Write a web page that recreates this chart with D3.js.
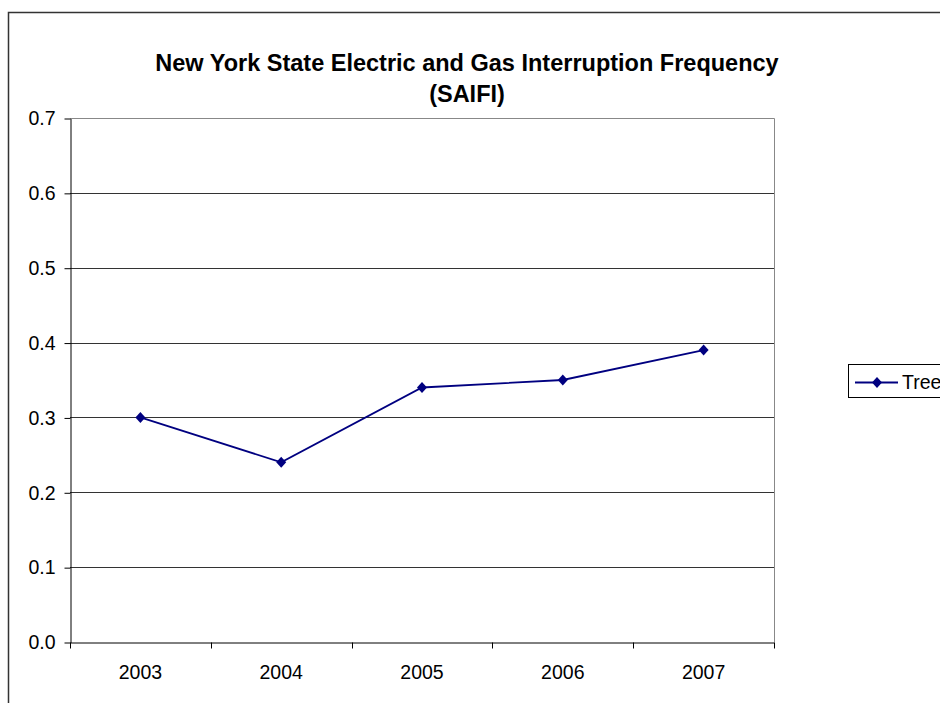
<!DOCTYPE html>
<html>
<head>
<meta charset="utf-8">
<script src="https://cdn.jsdelivr.net/npm/d3@7"></script>
<style>
  html, body { margin: 0; padding: 0; background: #fff; }
  svg { display: block; font-family: Arial, "Liberation Sans", sans-serif; }
</style>
</head>
<body>
<svg id="chart" width="940" height="703"></svg>
<script>
const categories = ["2003", "2004", "2005", "2006", "2007"];
const seriesName = "Tree";
const treeValues = [0.30, 0.24, 0.34, 0.35, 0.39];
const yTicks = [0.0, 0.1, 0.2, 0.3, 0.4, 0.5, 0.6, 0.7];
const titleLines = ["New York State Electric and Gas Interruption Frequency", "(SAIFI)"];

const svg = d3.select("#chart");
const plot = { left: 70, top: 118, right: 774, bottom: 642 };
const tickFont = 19.5;

// outer chart border
svg.append("path")
  .attr("d", `M8.5,703 L8.5,12.5 L940,12.5`)
  .attr("fill", "none").attr("stroke", "#333").attr("stroke-width", 1.5);

const x = d3.scaleBand().domain(categories).range([plot.left, plot.right]).padding(0);
const y = d3.scaleLinear().domain([0, 0.7]).range([plot.bottom, plot.top]);

// gridlines
svg.append("g").selectAll("line").data(yTicks.filter(d => d > 0 && d < 0.7)).join("line")
  .attr("x1", plot.left).attr("x2", plot.right)
  .attr("y1", d => Math.round(y(d)) + 0.5).attr("y2", d => Math.round(y(d)) + 0.5)
  .attr("stroke", "#333").attr("stroke-width", 1);

// plot area top/right border
svg.append("path")
  .attr("d", `M${plot.left},${plot.top + 0.5} L${plot.right + 0.5},${plot.top + 0.5} L${plot.right + 0.5},${plot.bottom}`)
  .attr("fill", "none").attr("stroke", "#888").attr("stroke-width", 1);

// y axis
const yAxis = d3.axisLeft(y).tickValues(yTicks).tickFormat(d3.format(".1f")).tickSize(6).tickSizeOuter(0);
const gy = svg.append("g").attr("transform", `translate(${plot.left + 0.5},0.5)`).call(yAxis);
gy.select(".domain").attr("stroke", "#000");
gy.selectAll(".tick line").attr("stroke", "#000");
gy.selectAll(".tick text").attr("font-size", tickFont).attr("fill", "#000").attr("x", -15)
  .attr("font-family", "Arial, 'Liberation Sans', sans-serif");

// x axis
const xAxis = d3.axisBottom(x).tickSize(0).tickSizeOuter(0);
const gx = svg.append("g").attr("transform", `translate(0,${plot.bottom + 0.5})`).call(xAxis);
gx.select(".domain").attr("stroke", "#000");
gx.selectAll(".tick text").attr("font-size", tickFont).attr("fill", "#000").attr("dy", 0).attr("y", 36)
  .attr("font-family", "Arial, 'Liberation Sans', sans-serif");
// tick marks at band boundaries
const boundaries = categories.map(c => x(c)).concat([x(categories[categories.length - 1]) + x.bandwidth()]);
gx.append("g").selectAll("line").data(boundaries).join("line")
  .attr("x1", d => Math.round(d) + 0.5).attr("x2", d => Math.round(d) + 0.5)
  .attr("y1", 0).attr("y2", 6).attr("stroke", "#000");

// line
const cx = d => x(d) + x.bandwidth() / 2;
const line = d3.line().x((d, i) => cx(categories[i])).y(d => y(d));
svg.append("path").datum(treeValues)
  .attr("d", line).attr("fill", "none").attr("stroke", "#000080").attr("stroke-width", 1.8);

const diamondPath = "M0,-5.5 L5,0 L0,5.5 L-5,0 Z";
svg.append("g").selectAll("path").data(treeValues).join("path")
  .attr("transform", (d, i) => `translate(${cx(categories[i])},${y(d)})`)
  .attr("d", diamondPath).attr("fill", "#000080");

// title
svg.append("g").selectAll("text").data(titleLines).join("text")
  .attr("x", 467).attr("y", (d, i) => 71 + i * 31)
  .attr("text-anchor", "middle").attr("font-size", 23.5).attr("font-weight", "bold")
  .attr("fill", "#000").text(d => d);

// legend
const lg = svg.append("g");
lg.append("rect").attr("x", 848.5).attr("y", 364.5).attr("width", 120).attr("height", 33)
  .attr("fill", "#fff").attr("stroke", "#000").attr("stroke-width", 1);
lg.append("line").attr("x1", 855).attr("x2", 898).attr("y1", 382.5).attr("y2", 382.5)
  .attr("stroke", "#000080").attr("stroke-width", 1.8);
lg.append("path").attr("transform", "translate(877,382.5)").attr("d", diamondPath).attr("fill", "#000080");
lg.append("text").attr("x", 902).attr("y", 389).attr("font-size", tickFont).attr("fill", "#000").text(seriesName);
</script>
</body>
</html>
